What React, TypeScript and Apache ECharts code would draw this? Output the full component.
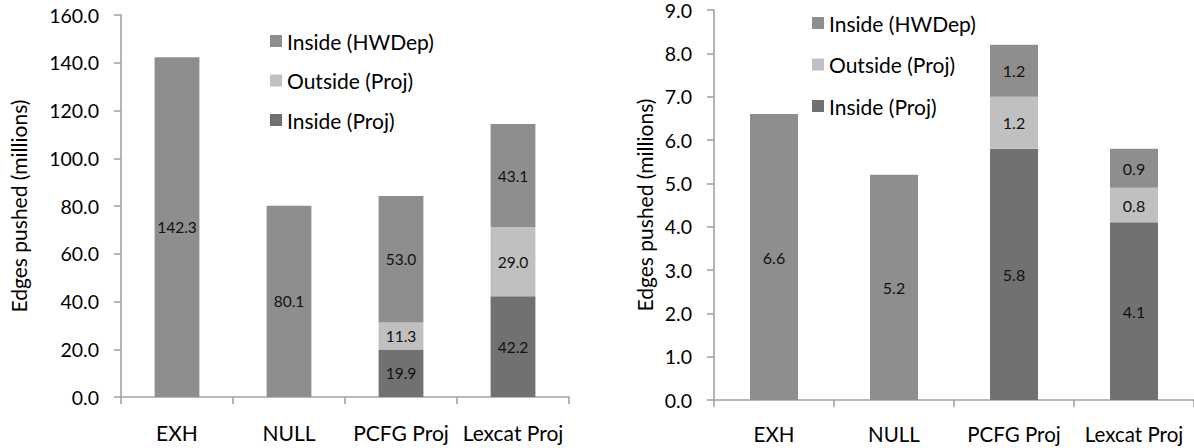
import React, { useEffect, useRef } from "react";
import * as echarts from "echarts";

const categories = ["EXH", "NULL", "PCFG Proj", "Lexcat Proj"];
const seriesNames = ["Inside (HWDep)", "Outside (Proj)", "Inside (Proj)"];
const axisName = "Edges pushed (millions)";

// Left chart (values in millions)
const leftInsideProj = [null, null, 19.9, 42.2];
const leftOutsideProj = [null, null, 11.3, 29.0];
const leftInsideHWDep = [142.3, 80.1, 53.0, 43.1];

// Right chart (values in millions)
const rightInsideProj = [null, null, 5.8, 4.1];
const rightOutsideProj = [null, null, 1.2, 0.8];
const rightInsideHWDep = [6.6, 5.2, 1.2, 0.9];

const colors: Record<string, string> = {
  "Inside (HWDep)": "#8e8e8e",
  "Outside (Proj)": "#c0c0c0",
  "Inside (Proj)": "#717171",
};

const FONT = "Lato, 'Open Sans', sans-serif";
const AXIS_COLOR = "#a3a3a3";

export default function App() {
  const ref = useRef<HTMLDivElement>(null);
  useEffect(() => {
    document.body.style.margin = "0";
    if (!ref.current) return;
    const chart = echarts.init(ref.current, undefined, { renderer: "svg" });

    const mkSeries = (name: string, data: (number | null)[], idx: number, fs: number) => ({
      type: "bar",
      name,
      data,
      stack: "s" + idx,
      xAxisIndex: idx,
      yAxisIndex: idx,
      barWidth: "40%",
      itemStyle: { color: colors[name] },
      label: {
        show: true,
        position: "inside",
        color: "#111",
        fontFamily: FONT,
        fontSize: fs,
        formatter: (p: any) => Number(p.value).toFixed(1),
      },
    });

    const xAxisBase = (gridIndex: number, margin: number, fs: number) => ({
      type: "category",
      gridIndex,
      data: categories,
      axisLine: { show: true, lineStyle: { color: AXIS_COLOR, width: 1.6 } },
      axisTick: { show: true, length: 7, alignWithLabel: false, lineStyle: { color: AXIS_COLOR, width: 1.6 } },
      axisLabel: { color: "#000", fontFamily: FONT, fontSize: fs, margin, interval: 0 },
    });

    const yAxisBase = (gridIndex: number, max: number, interval: number, nameGap: number) => ({
      type: "value",
      gridIndex,
      min: 0,
      max,
      interval,
      name: axisName,
      nameLocation: "middle",
      nameGap,
      nameRotate: 90,
      nameTextStyle: { color: "#000", fontFamily: FONT, fontSize: 21 },
      splitLine: { show: false },
      axisLine: { show: true, lineStyle: { color: AXIS_COLOR, width: 1.6 } },
      axisTick: { show: true, length: 7, lineStyle: { color: AXIS_COLOR, width: 1.6 } },
      axisLabel: {
        color: "#000",
        fontFamily: FONT,
        fontSize: 19.5,
        margin: 22,
        padding: [5, 0, 0, 0],
        formatter: (v: number) => v.toFixed(1),
      },
    });

    const legendBase = (left: number, top: number, itemGap: number) => ({
      orient: "vertical",
      left,
      top,
      padding: 0,
      itemWidth: 12,
      itemHeight: 12,
      itemGap,
      icon: "rect",
      data: seriesNames,
      textStyle: { color: "#000", fontFamily: FONT, fontSize: 21 },
    });

    chart.setOption({
      animation: false,
      backgroundColor: "#fff",
      grid: [
        { left: 121, top: 15, width: 448, height: 382 },
        { left: 714, top: 6, width: 483, height: 394 },
      ],
      legend: [legendBase(270, 30.5, 18.5), legendBase(812, 12.5, 20.5)],
      xAxis: [xAxisBase(0, 25, 21), xAxisBase(1, 23, 20.5)],
      yAxis: [yAxisBase(0, 160, 20, 92), yAxisBase(1, 9, 1, 59)],
      series: [
        mkSeries("Inside (Proj)", leftInsideProj, 0, 15.5),
        mkSeries("Outside (Proj)", leftOutsideProj, 0, 15.5),
        mkSeries("Inside (HWDep)", leftInsideHWDep, 0, 15.5),
        mkSeries("Inside (Proj)", rightInsideProj, 1, 16),
        mkSeries("Outside (Proj)", rightOutsideProj, 1, 16),
        mkSeries("Inside (HWDep)", rightInsideHWDep, 1, 16),
      ],
    });
    return () => chart.dispose();
  }, []);
  return <div ref={ref} style={{ width: 1194, height: 448 }} />;
}
